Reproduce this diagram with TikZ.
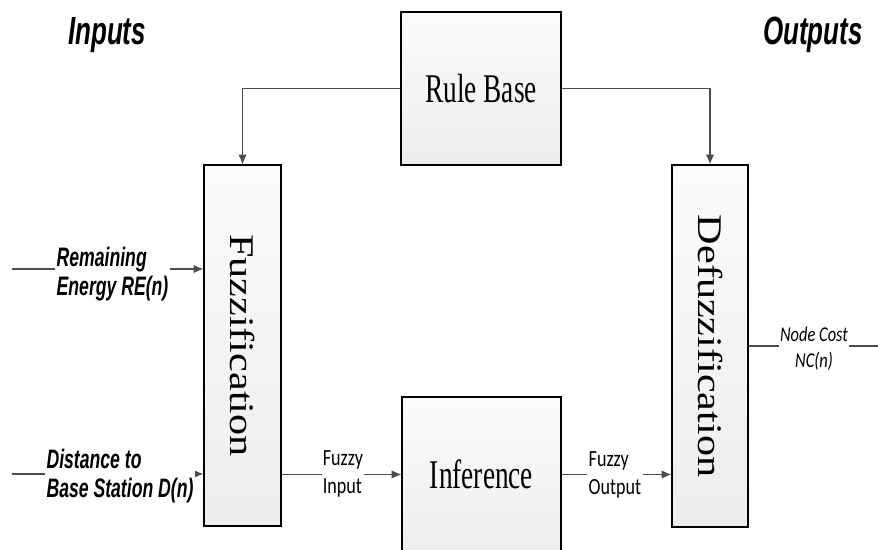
\documentclass[tikz,border=0pt]{standalone}
\usepackage{fontspec}
\usetikzlibrary{arrows.meta}
\newfontfamily\rmnarrow[FakeStretch=0.67]{Liberation Serif}
\newfontfamily\rmplain{Liberation Serif}
\newfontfamily\sfnarrow[FakeStretch=0.66]{Liberation Sans}
\newfontfamily\clnarrow[FakeStretch=0.78]{Carlito}
\tikzset{
  block/.style={draw=black,line width=0.8pt,top color=gray!3,bottom color=gray!14,inner sep=0pt},
  wire/.style={draw=black!70,line width=0.9pt},
  arr/.style={wire,-{Latex[length=7pt,width=6pt]}},
  sig/.style={fill=white,inner sep=1pt},
  head/.style={font=\sfnarrow\bfseries\itshape\fontsize{28}{30}\selectfont},
  inlbl/.style={sig,align=left,font=\sfnarrow\bfseries\itshape\fontsize{19}{20.6}\selectfont},
  fzlbl/.style={sig,align=left,font=\clnarrow\fontsize{16.5}{20.5}\selectfont},
  vlbl/.style={rotate=-90,font=\rmplain\fontsize{30}{31}\selectfont},
}
\begin{document}
\begin{tikzpicture}
\useasboundingbox (0,0) rectangle (21.95,13.75);
\node[block,minimum width=4cm,minimum height=3.825cm,font=\rmnarrow\fontsize{29}{30}\selectfont] (rule) at (12.025,11.5375) {Rule Base}; % rule base
\node[block,minimum width=1.925cm,minimum height=9.025cm] (fuzz) at (6.0625,5.1125) {}; % fuzzification
\node[vlbl] (fuzztxt) at (fuzz) {\scalebox{1}[0.82]{Fuzzification}}; % fuzzification label
\node[block,minimum width=1.9cm,minimum height=9.05cm] (defuzz) at (17.75,5.1) {}; % defuzzification
\node[vlbl] (defuzztxt) at (defuzz) {\scalebox{1}[0.82]{Defuzzification}}; % defuzzification label
\node[block,minimum width=3.975cm,minimum height=3.875cm,font=\rmnarrow\fontsize{29}{30}\selectfont] (inf) at (12.0375,1.8875) {Inference}; % inference
\coordinate (inRE) at (0.3,7.025); % input 1
\coordinate (inD) at (0.3,1.9); % input 2
\coordinate (outNC) at (21.95,5.1); % output
\draw[arr] (rule.west) -| (fuzz.north); % Wiring
\draw[arr] (rule.east) -| (defuzz.north); % Wiring
\draw[arr] (inRE) -- (inRE -| fuzz.west); % Wiring
\draw[arr] (inD) -- (inD -| fuzz.west); % Wiring
\draw[arr] (inf.west -| fuzz.east) -- (inf.west); % Wiring
\draw[arr] (inf.east) -- (inf.east -| defuzz.west); % Wiring
\draw[wire] (defuzz.east) -- (outNC); % Wiring
\node[head] (inputs) at (2.675,12.875) {Inputs}; % Inputs label
\node[head] (outputs) at (20.325,12.875) {Outputs}; % Outputs label
\node[inlbl] (relbl) at (2.8125,6.9) {Remaining\\Energy RE(n)}; % RE label
\node[inlbl] (dlbl) at (3.0,1.85) {Distance to\\Base Station D(n)}; % D label
\node[fzlbl] (fin) at (8.575,1.9) {Fuzzy\\Input}; % fuzzy input label
\node[fzlbl] (fout) at (15.375,1.875) {Fuzzy\\Output}; % fuzzy output label
\node[sig,align=center,font=\clnarrow\itshape\fontsize{15}{18.5}\selectfont] (nclbl) at (20.35,5.025) {Node Cost\\NC(n)}; % NC label
\end{tikzpicture}
\end{document}
